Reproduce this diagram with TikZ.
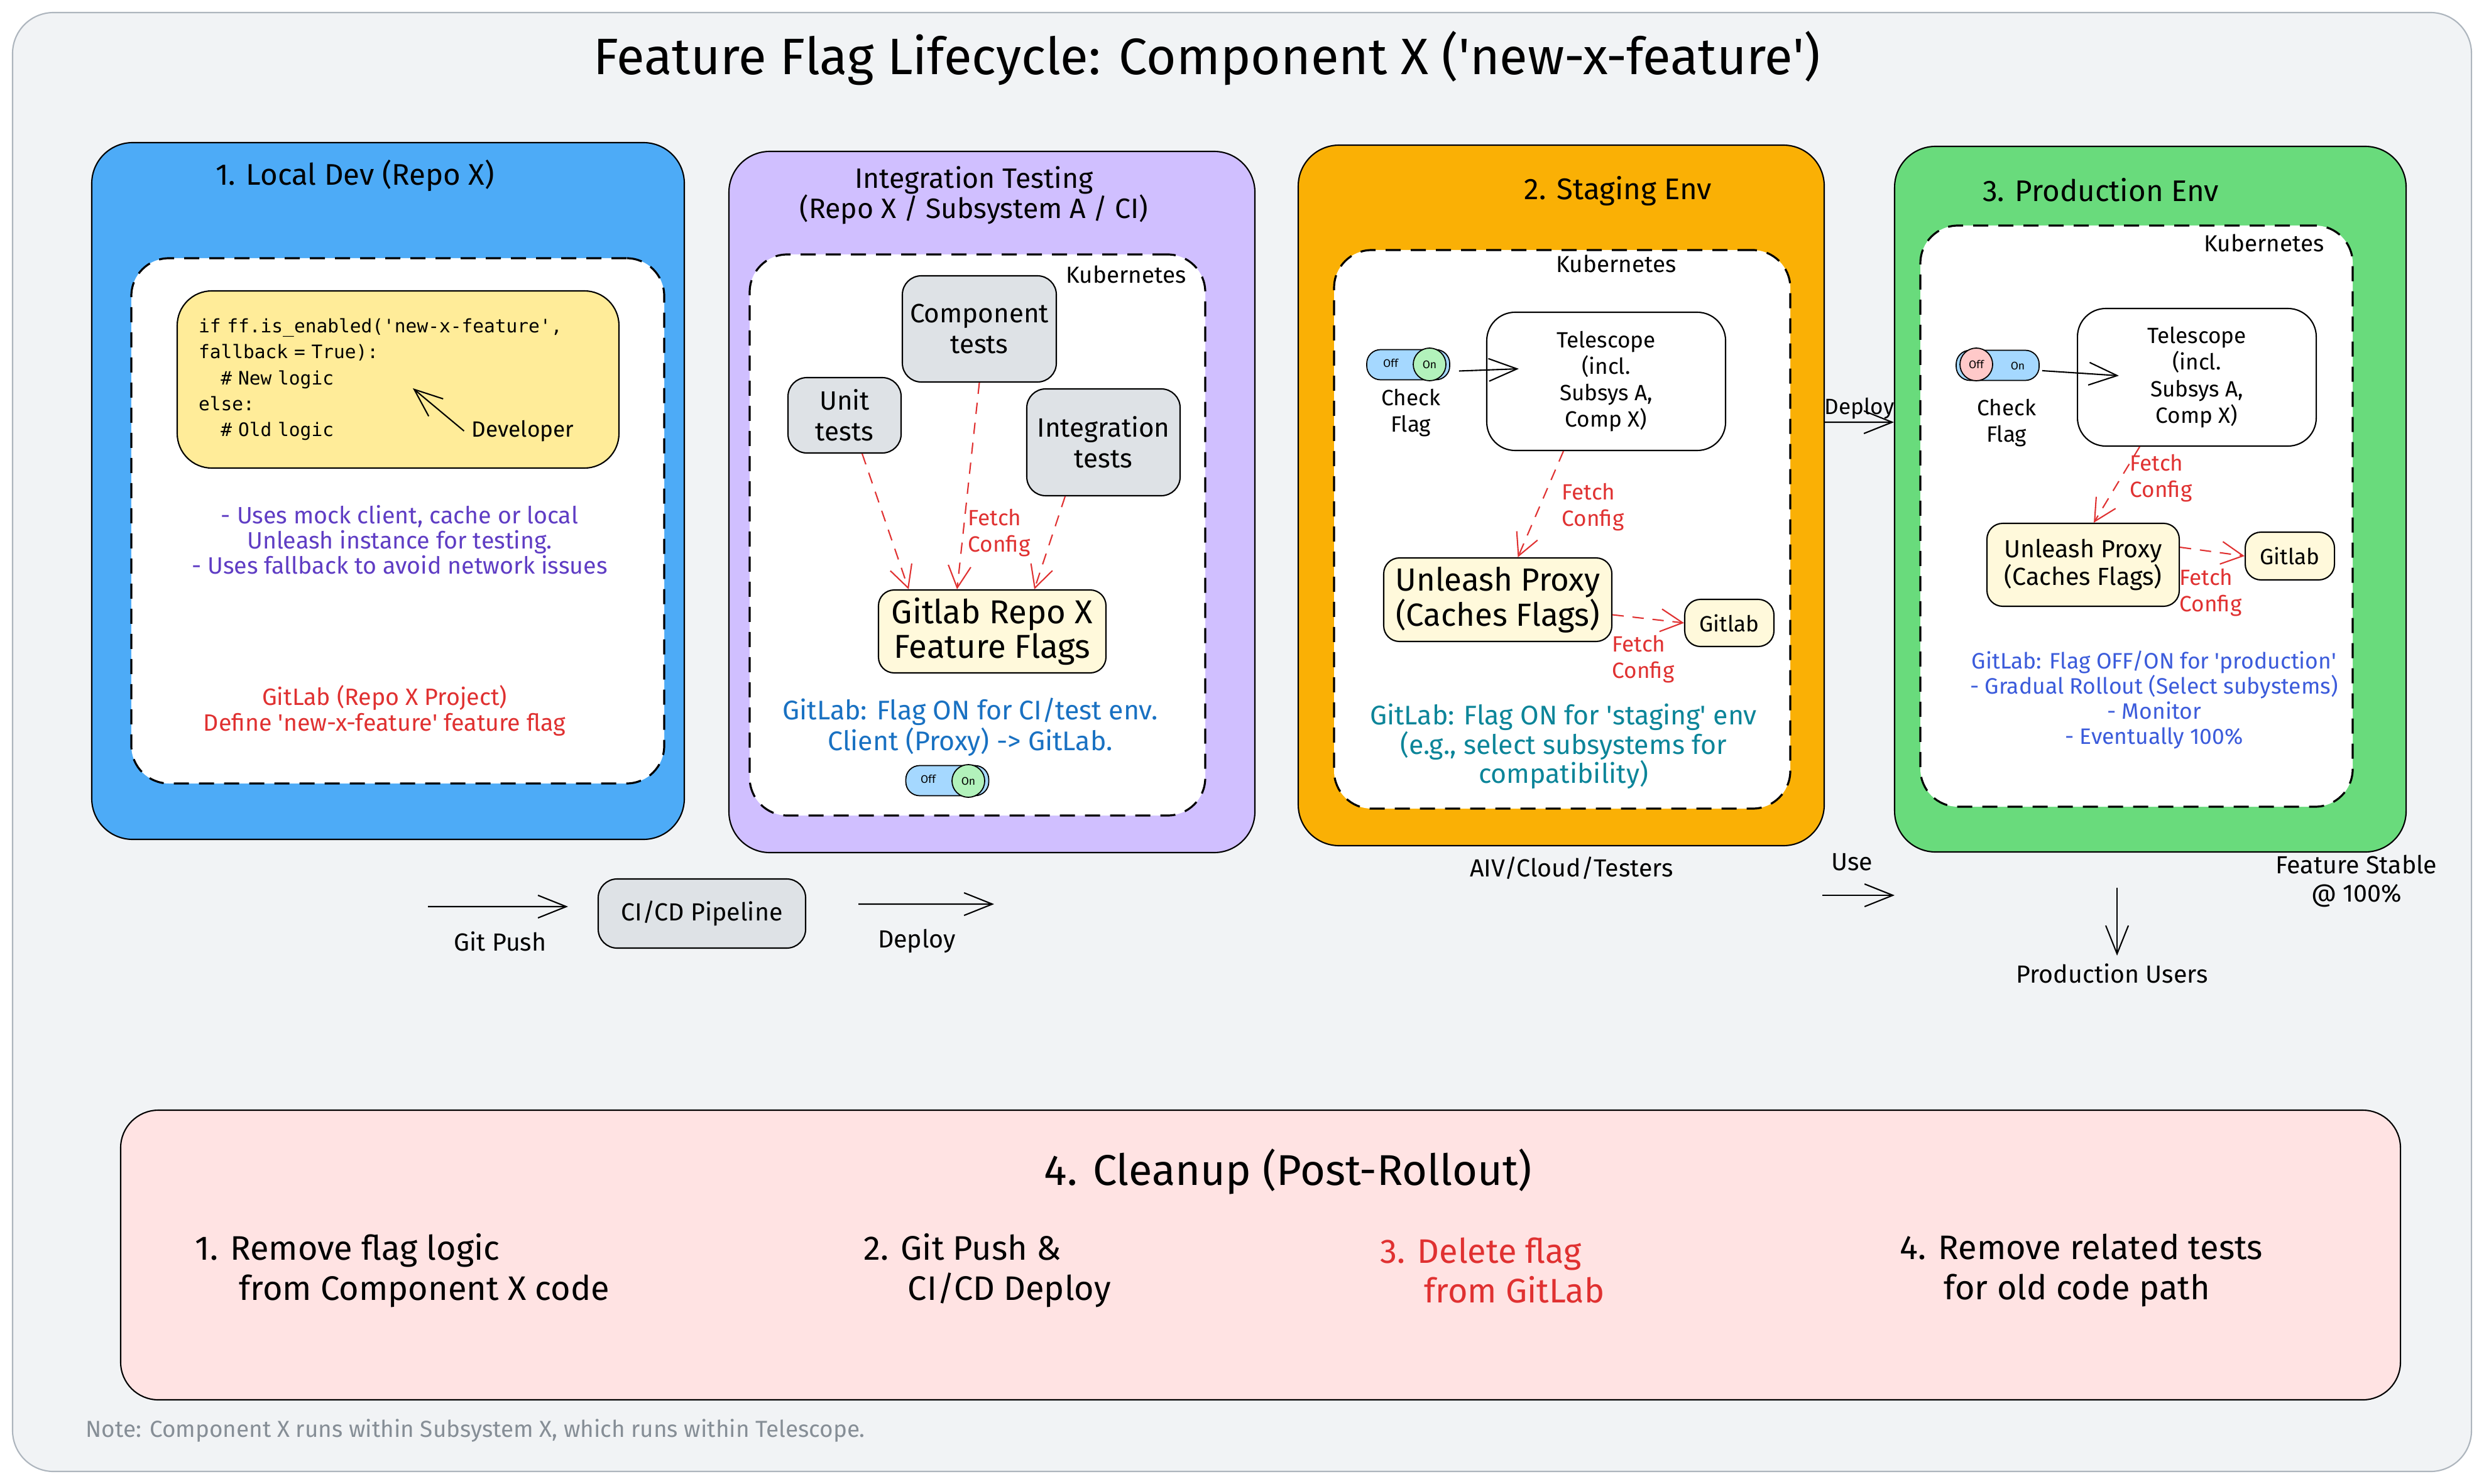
\documentclass[tikz,border=0pt]{standalone}
\usepackage{fontspec}
\setmainfont{Fira Sans}
\setmonofont{DejaVu Sans Mono}
\usetikzlibrary{positioning,arrows.meta}
\definecolor{canvasgray}{HTML}{F1F3F5}
\definecolor{canvasline}{HTML}{ADB5BD}
\definecolor{localblue}{HTML}{4DABF7}
\definecolor{integviolet}{HTML}{D0BFFF}
\definecolor{stageorange}{HTML}{FAB005}
\definecolor{prodgreen}{HTML}{69DB7C}
\definecolor{cleanpink}{HTML}{FFE3E3}
\definecolor{codeyellow}{HTML}{FFEC99}
\definecolor{flagyellow}{HTML}{FFF9DB}
\definecolor{testgray}{HTML}{DEE2E6}
\definecolor{toggleblue}{HTML}{A5D8FF}
\definecolor{togglegreen}{HTML}{B2F2BB}
\definecolor{togglered}{HTML}{FFC9C9}
\definecolor{fetchred}{HTML}{E03131}
\definecolor{noteviolet}{HTML}{5F3DC4}
\definecolor{noteblue}{HTML}{1971C2}
\definecolor{noteteal}{HTML}{0C8599}
\definecolor{noteindigo}{HTML}{3B5BDB}
\definecolor{notegray}{HTML}{868E96}
\tikzset{
  stagebox/.style={draw, line width=0.6pt, rounded corners=6.5mm},
  stagetitle/.style={font=\fontsize{13.5}{15.5}\selectfont, align=center},
  kubebox/.style={draw, fill=white, line width=0.9pt, dash pattern=on 2.4mm off 1.6mm, rounded corners=6mm},
  testbox/.style={draw, fill=testgray, line width=0.6pt, rounded corners=3mm, align=center, font=\large, inner sep=2pt},
  flagbox/.style={draw, fill=flagyellow, line width=0.6pt, rounded corners=2.5mm, align=center, inner sep=2pt},
  telebox/.style={draw, fill=white, line width=0.6pt, rounded corners=4.5mm, align=center, font=\normalsize},
  figarrow/.style={-{Straight Barb[length=4.5mm, width=3.6mm]}, line width=0.6pt},
  fetcharrow/.style={-{Straight Barb[length=3.5mm, width=3.6mm]}, line width=0.6pt, fetchred, dash pattern=on 1.8mm off 1.4mm},
  figlabel/.style={font=\normalsize, align=center},
  flowlabel/.style={font=\fontsize{11.2}{12.8}\selectfont, align=center},
  fetchlabel/.style={font=\normalsize, align=left, text=fetchred},
  stepitem/.style={font=\fontsize{15.4}{18}\selectfont, align=left, anchor=west, inner sep=0pt},
  togglepill/.style={draw, fill=toggleblue, line width=0.5pt, rounded corners=2.2mm, minimum width=1.32cm, minimum height=0.48cm, inner sep=0pt},
  toggleknob/.style={circle, draw, line width=0.5pt, minimum size=0.52cm, inner sep=0pt, font=\tiny},
}

\begin{document}
\begin{tikzpicture}
  \useasboundingbox (0,0) rectangle (39.53,-23.62);
  \fill[white] (0,0) rectangle (39.53,-23.62);
  \draw[canvasline, fill=canvasgray, line width=0.6pt, rounded corners=6.5mm] (0.20,-0.20) rectangle (39.33,-23.42);
  \node[font=\fontsize{23.2}{28}\selectfont] (title) at (19.21,-0.93) {Feature Flag Lifecycle: Component X (\textquotesingle new-x-feature\textquotesingle)};

  \node[stagebox, fill=localblue, minimum width=9.43cm, minimum height=11.09cm] (localbox) at (6.175,-7.815) {};
  \node[stagebox, fill=integviolet, minimum width=8.37cm, minimum height=11.16cm] (integbox) at (15.785,-7.99) {};
  \node[stagebox, fill=stageorange, minimum width=8.37cm, minimum height=11.15cm] (stagebox) at (24.845,-7.885) {};
  \node[stagebox, fill=prodgreen, minimum width=8.14cm, minimum height=11.23cm] (prodbox) at (34.22,-7.945) {};
  \node[stagetitle] (localtitle) at (5.65,-2.80) {1. Local Dev (Repo X)};
  \node[stagetitle, font=\fontsize{12.7}{13.6}\selectfont] (integtitle) at (15.50,-3.11) {Integration Testing\\(Repo X / Subsystem A / CI)};
  \node[stagetitle] (stagetitle) at (25.75,-3.04) {2. Staging Env};
  \node[stagetitle] (prodtitle) at (33.43,-3.02) {3. Production Env};

  \node[kubebox, minimum width=8.48cm, minimum height=8.36cm] (localkube) at (6.33,-8.29) {};
  \node[kubebox, minimum width=7.25cm, minimum height=8.93cm] (integkube) at (15.555,-8.515) {};
  \node[kubebox, minimum width=7.26cm, minimum height=8.89cm] (stagekube) at (24.86,-8.425) {};
  \node[kubebox, minimum width=6.88cm, minimum height=9.25cm] (prodkube) at (34.00,-8.215) {};
  \node[figlabel, font=\fontsize{10.5}{12}\selectfont] (integk8s) at (17.92,-4.37) {Kubernetes};
  \node[figlabel, font=\fontsize{10.5}{12}\selectfont] (stagek8s) at (25.72,-4.20) {Kubernetes};
  \node[figlabel, font=\fontsize{10.5}{12}\selectfont] (prodk8s) at (36.03,-3.87) {Kubernetes};

  \node[draw, fill=codeyellow, line width=0.6pt, rounded corners=5.5mm, minimum width=7.03cm, minimum height=2.82cm,
    text width=6.35cm, align=left, font=\ttfamily\fontsize{8.4}{11.7}\selectfont] (code) at (6.335,-6.04)
    {if ff.is\_enabled('new-x-feature',\\fallback = True):\\\hspace*{1.2em}\# New logic\\else:\\\hspace*{1.2em}\# Old logic};
  \node[figlabel] (dev) at (8.32,-6.86) {Developer};
  \coordinate (devtip) at (6.57,-6.18);
  \draw[figarrow] (dev.west) -- (devtip);
  \node[figlabel, font=\fontsize{10.7}{11.5}\selectfont, text=noteviolet] (mocknote) at (6.36,-8.59) {- Uses mock client, cache or local\\Unleash instance for testing.\\- Uses fallback to avoid network issues};
  \node[figlabel, font=\fontsize{10.7}{11.7}\selectfont, text=fetchred] (flagdef) at (6.12,-11.31) {GitLab (Repo X Project)\\Define \textquotesingle new-x-feature\textquotesingle{} feature flag};

  \node[testbox, minimum width=2.45cm, minimum height=1.69cm] (comptests) at (15.585,-5.235) {Component\\tests};
  \node[testbox, minimum width=1.80cm, minimum height=1.20cm] (unittests) at (13.44,-6.61) {Unit\\tests};
  \node[testbox, minimum width=2.44cm, minimum height=1.70cm] (integtests) at (17.56,-7.04) {Integration\\tests};
  \node[flagbox, font=\fontsize{15}{15.5}\selectfont, minimum width=3.62cm, minimum height=1.32cm] (repoflags) at (15.79,-10.05) {Gitlab Repo X\\Feature Flags};
  \draw[fetcharrow] ([xshift=2.8mm]unittests.south) -- ([xshift=-13.3mm]repoflags.north);
  \draw[fetcharrow] (comptests.south) -- ([xshift=-5.6mm]repoflags.north);
  \draw[fetcharrow] ([xshift=-6.1mm]integtests.south) -- ([xshift=6.7mm]repoflags.north);
  \node[fetchlabel] (integfetch) at (15.90,-8.48) {Fetch\\Config};
  \node[figlabel, font=\fontsize{12.2}{12.5}\selectfont, text=noteblue] (cinote) at (15.44,-11.57) {GitLab: Flag ON for CI/test env.\\Client (Proxy) -> GitLab.};
  \node[togglepill] (integswitch) at (15.075,-12.425) {};
  \node[toggleknob, fill=togglegreen] (integknob) at (15.41,-12.43) {On};
  \node[font=\tiny] (integoff) at (14.77,-12.40) {Off};

  \node[togglepill] (stageswitch) at (22.41,-5.805) {};
  \node[toggleknob, fill=togglegreen] (stageknob) at (22.75,-5.80) {On};
  \node[font=\tiny] (stageoff) at (22.13,-5.78) {Off};
  \node[figlabel] (stagecheck) at (22.45,-6.57) {Check\\Flag};
  \node[telebox, minimum width=3.80cm, minimum height=2.20cm] (stagetele) at (25.56,-6.07) {Telescope\\(incl.\\Subsys A,\\Comp X)};
  \draw[figarrow] ([xshift=1.4mm,yshift=-1mm]stageswitch.east) -- ([xshift=5.2mm,yshift=2mm]stagetele.west);
  \node[flagbox, font=\fontsize{14.5}{16}\selectfont, minimum width=3.63cm, minimum height=1.33cm] (stageproxy) at (23.835,-9.545) {Unleash Proxy\\(Caches Flags)};
  \node[flagbox, font=\normalsize, minimum width=1.42cm, minimum height=0.75cm] (stagegit) at (27.52,-9.915) {Gitlab};
  \draw[fetcharrow] ([xshift=-6.8mm]stagetele.south) -- ([xshift=3.2mm]stageproxy.north);
  \node[fetchlabel] (stagefetch) at (25.35,-8.07) {Fetch\\Config};
  \draw[fetcharrow] ([yshift=-2.4mm]stageproxy.east) -- (stagegit.west);
  \node[fetchlabel] (stagefetchgit) at (26.15,-10.49) {Fetch\\Config};
  \node[figlabel, font=\fontsize{12.2}{13.2}\selectfont, text=noteteal] (stagenote) at (24.88,-11.88) {GitLab: Flag ON for \textquotesingle staging\textquotesingle{} env\\(e.g., select subsystems for\\compatibility)};

  \node[togglepill] (prodswitch) at (31.79,-5.815) {};
  \node[toggleknob, fill=togglered] (prodknob) at (31.45,-5.80) {Off};
  \node[font=\tiny] (prodon) at (32.11,-5.82) {On};
  \node[figlabel] (prodcheck) at (31.93,-6.73) {Check\\Flag};
  \node[telebox, minimum width=3.80cm, minimum height=2.19cm] (prodtele) at (34.96,-6.005) {Telescope\\(incl.\\Subsys A,\\Comp X)};
  \draw[figarrow] ([xshift=0.4mm,yshift=-0.85mm]prodswitch.east) -- ([xshift=6.7mm,yshift=0.25mm]prodtele.west);
  \node[flagbox, font=\fontsize{11.2}{12.5}\selectfont, minimum width=3.06cm, minimum height=1.32cm] (prodproxy) at (33.15,-8.99) {Unleash Proxy\\(Caches Flags)};
  \node[flagbox, font=\normalsize, minimum width=1.42cm, minimum height=0.76cm] (prodgit) at (36.44,-8.85) {Gitlab};
  \draw[fetcharrow] ([xshift=-9.1mm]prodtele.south) -- ([xshift=1.7mm]prodproxy.north);
  \node[fetchlabel] (prodfetch) at (34.39,-7.61) {Fetch\\Config};
  \draw[fetcharrow] ([yshift=2.8mm]prodproxy.east) -- (prodgit.west);
  \node[fetchlabel] (prodfetchgit) at (35.18,-9.43) {Fetch\\Config};
  \node[figlabel, font=\fontsize{10.1}{11.4}\selectfont, text=noteindigo] (prodnote) at (34.28,-11.14) {GitLab: Flag OFF/ON for \textquotesingle production\textquotesingle\\- Gradual Rollout (Select subystems)\\- Monitor\\- Eventually 100\%};

  \draw[figarrow] ([yshift=11.65mm]stagebox.east) -- node[figlabel, above, inner sep=1pt] (deploylabel) {Deploy} ([yshift=12.25mm]prodbox.west);

  \node[draw, fill=testgray, line width=0.6pt, rounded corners=3mm, minimum width=3.30cm, minimum height=1.10cm, flowlabel] (cicd) at (11.17,-14.54) {CI/CD Pipeline};
  \coordinate (pushsrc) at (6.81,-14.43);
  \draw[figarrow] (pushsrc) -- ([xshift=-4.7mm,yshift=1.1mm]cicd.west);
  \node[flowlabel] (pushlabel) at (7.96,-14.98) {Git Push};
  \coordinate (deploydst) at (15.82,-14.39);
  \draw[figarrow] ([xshift=8.3mm,yshift=1.5mm]cicd.east) -- (deploydst);
  \node[flowlabel] (cideploy) at (14.59,-14.98) {Deploy};
  \node[flowlabel] (testers) at (25.01,-13.82) {AIV/Cloud/Testers};
  \node[flowlabel] (uselabel) at (29.47,-13.72) {Use};
  \coordinate (usesrc) at (29.00,-14.25);
  \coordinate (usedst) at (30.15,-14.25);
  \draw[figarrow] (usesrc) -- (usedst);
  \node[flowlabel] (stable) at (37.50,-14.02) {Feature Stable\\@ 100\%};
  \node[flowlabel] (produsers) at (33.61,-15.49) {Production Users};
  \coordinate (usersrc) at (33.69,-14.13);
  \draw[figarrow] (usersrc) -- (produsers.north -| usersrc);

  \node[draw, fill=cleanpink, line width=0.6pt, rounded corners=6mm, minimum width=36.28cm, minimum height=4.61cm] (cleanup) at (20.06,-19.975) {};
  \node[font=\fontsize{19.5}{23}\selectfont] (cleantitle) at (20.50,-18.65) {4. Cleanup (Post-Rollout)};
  \node[stepitem] (step1) at (3.10,-20.22) {1. Remove flag logic\\\hspace*{7mm}from Component X code};
  \node[stepitem] (step2) at (13.74,-20.22) {2. Git Push \&\\\hspace*{7mm}CI/CD Deploy};
  \node[stepitem, text=fetchred] (step3) at (21.96,-20.22) {3. Delete flag\\\hspace*{7mm}from GitLab};
  \node[stepitem] (step4) at (30.23,-20.22) {4. Remove related tests\\\hspace*{7mm}for old code path};
  \node[font=\fontsize{10.5}{12}\selectfont, text=notegray, anchor=west, inner sep=0pt] (footnote) at (1.36,-22.77) {Note: Component X runs within Subsystem X, which runs within Telescope.};
\end{tikzpicture}
\end{document}
